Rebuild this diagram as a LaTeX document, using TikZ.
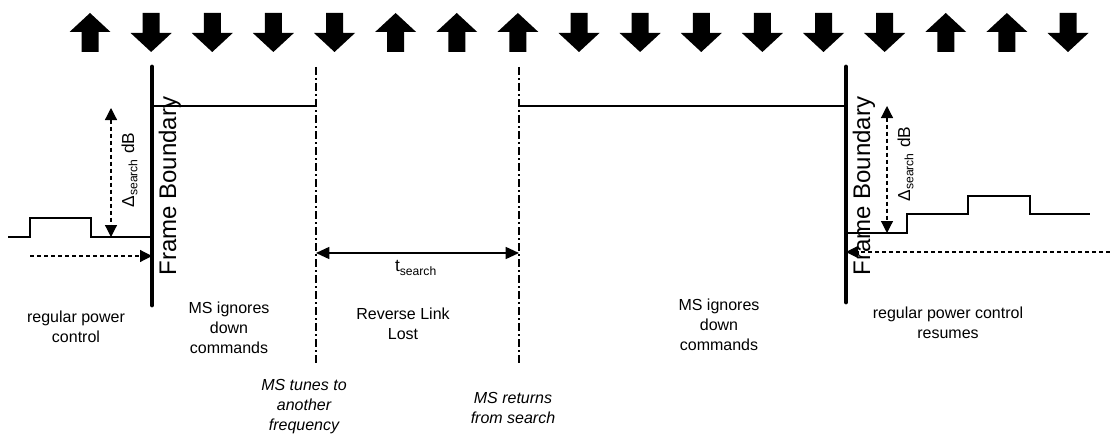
\documentclass[tikz,border=0pt]{standalone}
\usepackage{fontspec}
\setmainfont{Liberation Sans}
\usetikzlibrary{arrows.meta}
\tikzset{
 note/.style={align=center,inner sep=0pt,font=\fontsize{12}{15}\selectfont},
 event/.style={note,font=\fontsize{12}{15}\selectfont\itshape},
 fbtext/.style={rotate=90,anchor=base,inner sep=0pt,font=\fontsize{18}{18}\selectfont},
 deltatext/.style={rotate=90,anchor=base,inner sep=0pt,font=\fontsize{13}{13}\selectfont},
 boundary/.style={line width=3.6pt,line cap=round},
 timing/.style={line width=0.9pt,dash pattern=on 6pt off 2.25pt on 1.5pt off 2.25pt},
 level/.style={line width=1.2pt},
 guide/.style={line width=0.9pt,dash pattern=on 3pt off 2.25pt},
 tip/.style={-{Triangle[length=9pt,width=9pt]}},
 tips/.style={{Triangle[length=9pt,width=9pt]}-{Triangle[length=9pt,width=9pt]}},
 span/.style={line width=1.2pt,{Triangle[length=10pt,width=9pt]}-{Triangle[length=10pt,width=9pt]}},
 cmd/.pic={\fill (0,-19.5) -- (20.5,-0.5) -- (8.5,-0.5) -- (8.5,19.5) -- (-8.5,19.5) -- (-8.5,-0.5) -- (-20.5,-0.5) -- cycle;}
}
\begin{document}
\begin{tikzpicture}[x=0.75pt,y=-0.75pt]
 \useasboundingbox (0,0) rectangle (1110,435);
 % up/down power control commands
 \foreach \d [count=\i from 0] in {1,-1,-1,-1,-1,1,1,1,-1,-1,-1,-1,-1,-1,1,1,-1}
   \pic[yscale=\d] at (90+61.125*\i,32.5) {cmd};
 % frame boundaries and search instants
 \coordinate (fbL) at (152,67);  \coordinate (fbLb) at (152,305);
 \coordinate (fbR) at (846,67);  \coordinate (fbRb) at (846,302);
 \coordinate (tune) at (316,67); \coordinate (tuneb) at (316,365);
 \coordinate (back) at (519,67); \coordinate (backb) at (519,365);
 \draw[boundary] (fbL) -- (fbLb);
 \draw[boundary] (fbR) -- (fbRb);
 \draw[timing] (tune) -- (tuneb);
 \draw[timing] (back) -- (backb);
 \node[fbtext] (fbLtext) at (176,186) {Frame Boundary};
 \node[fbtext] (fbRtext) at (870,186) {Frame Boundary};
 % held power level
 \coordinate (holdL) at (152,106); \coordinate (holdLe) at (316,106);
 \coordinate (holdR) at (519,106); \coordinate (holdRe) at (846,106);
 \draw[level] (holdL) -- (holdLe);
 \draw[level] (holdR) -- (holdRe);
 % transmit power before and after
 \draw[level] (8,237) -- (30,237) -- (30,218) -- (91,218) -- (91,237) -- (152,237);
 \draw[level] (846,233) -- (907,233) -- (907,214) -- (968,214) -- (968,196)
   -- (1030,196) -- (1030,214) -- (1090,214);
 % search offsets
 \coordinate (dL) at (111,108); \coordinate (dLb) at (111,237);
 \coordinate (dR) at (887,106); \coordinate (dRb) at (887,233);
 \draw[guide,tips] (dL) -- (dLb);
 \draw[guide,tips] (dR) -- (dRb);
 \node[deltatext] (deltaL) at (134,170) {Δ\textsubscript{search} dB};
 \node[deltatext] (deltaR) at (910,164) {Δ\textsubscript{search} dB};
 \coordinate (refL) at (30,256); \coordinate (refLe) at (152,256);
 \coordinate (refR) at (1110,252); \coordinate (refRe) at (846,252);
 \draw[guide,tip] (refL) -- (refLe);
 \draw[guide,tip] (refR) -- (refRe);
 % search duration
 \coordinate (ts) at (316,253); \coordinate (tse) at (519,253);
 \draw[span] (ts) -- (tse);
 \node[note,font=\fontsize{13}{13}\selectfont] (tsearch) at (416,268) {t\textsubscript{search}};
 % phase texts
 \node[note] (regctl) at (76,327) {regular power\\control};
 \node[note] (ignoreL) at (229,328) {MS ignores\\down\\commands};
 \node[note] (lost) at (403,324) {Reverse Link\\Lost};
 \node[note] (ignoreR) at (719,325) {MS ignores\\down\\commands};
 \node[note] (resume) at (948,323) {regular power control\\resumes};
 \node[event] (tunes) at (304,407) {MS tunes to\\another\\frequency};
 \node[event] (returns) at (513,408) {MS returns\\from search};
\end{tikzpicture}
\end{document}
